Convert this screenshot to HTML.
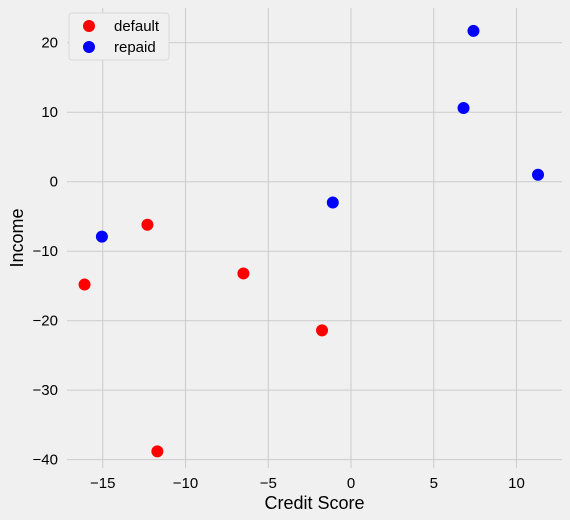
<!DOCTYPE html>
<html><head><meta charset="utf-8"><style>
html,body{margin:0;padding:0;background:#f0f0f0;}
svg{display:block;font-family:"Liberation Sans","DejaVu Sans",sans-serif;}
</style></head><body>
<svg id="chart" width="570" height="520"></svg>
<script>
const xTicks=[-15,-10,-5,0,5,10];
const yTicks=[20,10,0,-10,-20,-30,-40];
const defaultX=[-16.1,-12.3,-6.5,-1.75,-11.7];
const defaultY=[-14.8,-6.2,-13.2,-21.4,-38.8];
const repaidX=[-15.05,-1.1,6.8,7.4,11.3];
const repaidY=[-7.9,-3.0,10.6,21.7,1.0];
const L=67,R=562,T=8,B=468;
const xMin=-17.16,xMax=12.75,yMin=-41.2,yMax=25.0;
const sx=v=>L+(v-xMin)/(xMax-xMin)*(R-L);
const sy=v=>B-(v-yMin)/(yMax-yMin)*(B-T);
const NS="http://www.w3.org/2000/svg";
const svg=document.getElementById('chart');
function mk(tag,attrs,parent){const e=document.createElementNS(NS,tag);for(const k in attrs)e.setAttribute(k,attrs[k]);(parent||svg).appendChild(e);return e;}
const grid=mk('g',{});


xTicks.forEach(v=>{
  const l=mk('line',{x1:sx(v),x2:sx(v),y1:T,y2:B,stroke:'#cbcbcb','stroke-width':1},grid);
  
  
  const t=mk('text',{x:sx(v),y:B+20,'text-anchor':'middle','font-size':15,fill:'#000'});
  t.textContent=v<0?'\u2212'+Math.abs(v):v;
  
  
});
yTicks.forEach(v=>{
  const l=mk('line',{x1:L,x2:R,y1:sy(v),y2:sy(v),stroke:'#cbcbcb','stroke-width':1},grid);
  
  
  const t=mk('text',{x:L-9,y:sy(v)+5,'text-anchor':'end','font-size':15,fill:'#000'});
  t.textContent=v<0?'\u2212'+Math.abs(v):v;
  
  
});
function series(xs,ys,color,name){
  const g=mk('g',{});
  
  
  xs.forEach((x,i)=>{
    const c=mk('circle',{cx:sx(x),cy:sy(ys[i]),r:6,fill:color},g);
    
    
  });
}
series(defaultX,defaultY,'#ff0000','default');
series(repaidX,repaidY,'#0000ff','repaid');
const xl=mk('text',{x:(L+R)/2,y:509,'text-anchor':'middle','font-size':18,fill:'#000'});
xl.textContent='Credit Score';


const yl=mk('text',{x:23,y:(T+B)/2,'text-anchor':'middle','font-size':18,fill:'#000',transform:'rotate(-90 23 '+((T+B)/2)+')'});
yl.textContent='Income';


const lg=mk('g',{});


mk('rect',{x:69,y:13,width:100,height:47,rx:3,fill:'#f0f0f0',stroke:'#d8d8d8'},lg);
[['default','#ff0000',26],['repaid','#0000ff',47]].forEach(([n,c,y])=>{
  const e=mk('g',{},lg);
  
  
  mk('circle',{cx:89,cy:y,r:6,fill:c},e);
  const t=mk('text',{x:114,y:y+5,'font-size':15,fill:'#000'},e);
  t.textContent=n;
});
</script>
</body></html>
